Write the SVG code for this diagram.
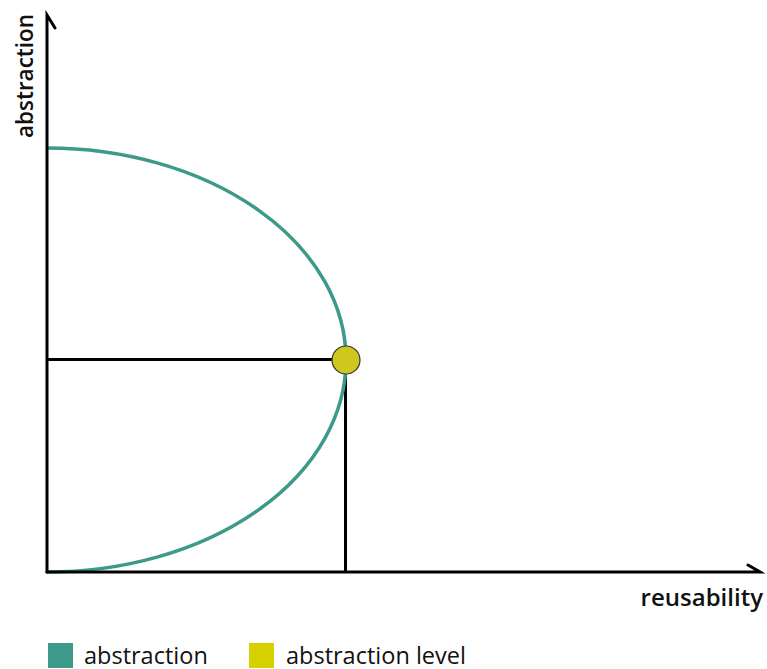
<svg xmlns="http://www.w3.org/2000/svg" width="767" height="669" viewBox="0 0 767 669">
<style>
.axis{stroke:#000;stroke-width:3;fill:none;stroke-linecap:round}
.guide{stroke:#000;stroke-width:3;fill:none}
.curve{stroke:#3d9a8b;stroke-width:3.5;fill:none}
.lbl{font-family:"Open Sans","Liberation Sans",sans-serif;font-weight:600;fill:#111}
.leg{font-family:"Open Sans","Liberation Sans",sans-serif;font-size:23.5px;fill:#111}
</style>
<rect width="767" height="669" fill="#fff"/>
<g id="connectors">
<path class="guide" d="M47 359.5 H334"/>
<path class="guide" d="M345.5 372 V572"/>
<path class="curve" d="M47 148 A299 212 0 0 1 346 360 A299 212 0 0 1 47 572"/>
</g>
<g id="axes">
<path class="axis" d="M47 572 V15 L55 28"/>
<path class="axis" d="M47 572 H760 L748 565"/>
</g>
<g id="point">
<circle cx="346" cy="360" r="14" fill="#cfc61f" stroke="#333" stroke-width="1.2"/>
</g>
<g id="axis-labels">
<text class="lbl" font-size="22.5" transform="translate(33,138) rotate(-90)">abstraction</text>
<text class="lbl" font-size="24" x="763" y="606" text-anchor="end">reusability</text>
</g>
<g id="legend">
<rect x="48" y="643" width="25" height="25" fill="#3d9a8b"/>
<text class="leg" x="84" y="664">abstraction</text>
<rect x="249" y="643" width="25" height="25" fill="#d6d000"/>
<text class="leg" x="286" y="664">abstraction level</text>
</g>
</svg>
